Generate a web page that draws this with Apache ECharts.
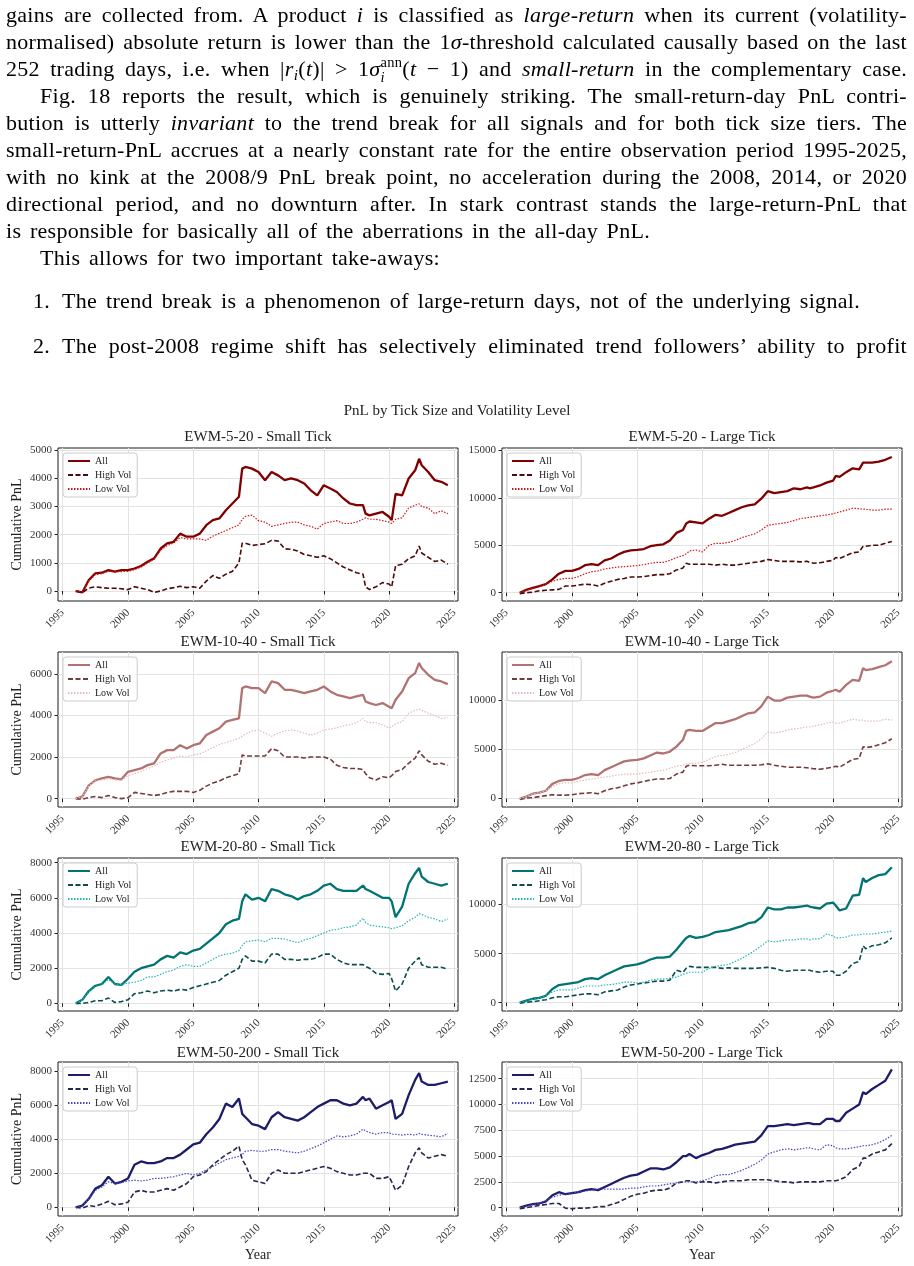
<!DOCTYPE html>
<html>
<head>
<meta charset="utf-8">
<script src="https://cdn.jsdelivr.net/npm/echarts@6.0.0/dist/echarts.min.js"></script>
<style>
  html, body { margin: 0; padding: 0; background: #fff; }
  #page { position: relative; width: 914px; height: 1266px; overflow: hidden; }
  #chart { position: absolute; left: 0; top: 0; width: 914px; height: 1266px; }
  .ln {
    position: absolute; white-space: nowrap;
    font-family: 'Liberation Serif', serif; font-size: 22px; line-height: 27px;
    letter-spacing: 0.3px; color: #000;
  }
  .ln sub { font-size: 0.7em; line-height: 0; vertical-align: -0.25em; }
  .ss { display: inline-block; vertical-align: -0.4em; font-size: 0.66em; line-height: 1; }
  .ss span { display: block; }
</style>
</head>
<body>
<div id="page">
  <div id="chart"></div>

  <div class="ln" data-w="901" style="left:6px;top:1px">gains are collected from. A product <i>i</i> is classified as <i>large-return</i> when its current (volatility-</div>
  <div class="ln" data-w="901" style="left:6px;top:28px">normalised) absolute return is lower than the 1<i>σ</i>-threshold calculated causally based on the last</div>
  <div class="ln" data-w="901" style="left:6px;top:55px">252 trading days, i.e. when |<i>r</i><sub><i>i</i></sub>(<i>t</i>)| &gt; 1<i>σ</i><span class="ss"><span>ann</span><span><i>i</i></span></span>(<i>t</i> − 1) and <i>small-return</i> in the complementary case.</div>
  <div class="ln" data-w="867" style="left:40px;top:82px">Fig. 18 reports the result, which is genuinely striking. The small-return-day PnL contri-</div>
  <div class="ln" data-w="901" style="left:6px;top:109px">bution is utterly <i>invariant</i> to the trend break for all signals and for both tick size tiers. The</div>
  <div class="ln" data-w="901" style="left:6px;top:136px">small-return-PnL accrues at a nearly constant rate for the entire observation period 1995-2025,</div>
  <div class="ln" data-w="901" style="left:6px;top:163px">with no kink at the 2008/9 PnL break point, no acceleration during the 2008, 2014, or 2020</div>
  <div class="ln" data-w="901" style="left:6px;top:190px">directional period, and no downturn after. In stark contrast stands the large-return-PnL that</div>
  <div class="ln" data-w="644" style="left:6px;top:217px">is responsible for basically all of the aberrations in the all-day PnL.</div>
  <div class="ln" data-w="400" style="left:40px;top:244px">This allows for two important take-aways:</div>
  <div class="ln" style="left:33px;top:287px">1.</div>
  <div class="ln" data-w="798" style="left:62px;top:287px">The trend break is a phenomenon of large-return days, not of the underlying signal.</div>
  <div class="ln" style="left:33px;top:332px">2.</div>
  <div class="ln" data-w="845" style="left:62px;top:332px">The post-2008 regime shift has selectively eliminated trend followers’ ability to profit</div>
</div>

<script>
// sample dates (fractional years), shared by every series
const years = [
  1996.0, 1996.5, 1997.0, 1997.5, 1998.0, 1998.5, 1999.0, 1999.5, 2000.0, 2000.5,
  2001.0, 2001.5, 2002.0, 2002.5, 2003.0, 2003.5, 2004.0, 2004.5, 2005.0, 2005.5,
  2006.0, 2006.5, 2007.0, 2007.5, 2008.0, 2008.5, 2008.75, 2009.0, 2009.5, 2010.0,
  2010.5, 2011.0, 2011.5, 2012.0, 2012.5, 2013.0, 2013.5, 2014.0, 2014.5, 2015.0,
  2015.5, 2016.0, 2016.5, 2017.0, 2017.5, 2018.0, 2018.2, 2018.5, 2019.0, 2019.5,
  2020.0, 2020.2, 2020.5, 2021.0, 2021.5, 2022.0, 2022.3, 2022.5, 2023.0, 2023.5,
  2024.0, 2024.5
]
const xTicks = [1995, 2000, 2005, 2010, 2015, 2020, 2025]

// EWM-5-20 small tick
const p1All = [0, -50, 390, 630, 650, 740, 690, 740, 740, 800,
  890, 1040, 1160, 1510, 1690, 1750, 2040, 1930, 1930, 2040,
  2340, 2520, 2580, 2870, 3110, 3350, 4350, 4410, 4350, 4230,
  3940, 4230, 4110, 3940, 4000, 3940, 3820, 3580, 3400, 3760,
  3640, 3520, 3290, 3110, 3050, 3050, 2750, 2690, 2750, 2810,
  2640, 2520, 3450, 3400, 4000, 4290, 4700, 4470, 4230, 3940,
  3880, 3760]
const p1High = [0, -50, 100, 150, 120, 100, 100, 80, 50, 150,
  100, 50, -50, 0, 80, 120, 170, 120, 150, 100,
  350, 550, 450, 600, 700, 1000, 1700, 1700, 1620, 1650,
  1680, 1800, 1780, 1500, 1480, 1420, 1300, 1250, 1200, 1250,
  1150, 1000, 850, 750, 650, 600, 150, 50, 150, 300,
  250, 150, 900, 950, 1150, 1250, 1600, 1350, 1200, 1050,
  1100, 950]
const p1Low = [0, -30, 350, 580, 620, 700, 680, 690, 700, 760,
  850, 1000, 1130, 1450, 1620, 1700, 1900, 1850, 1850, 1850,
  1800, 1950, 2050, 2150, 2250, 2350, 2550, 2650, 2700, 2500,
  2450, 2300, 2350, 2400, 2450, 2450, 2350, 2300, 2200, 2400,
  2450, 2500, 2400, 2400, 2450, 2550, 2600, 2550, 2550, 2500,
  2450, 2400, 2550, 2600, 2950, 3050, 3100, 3000, 2950, 2750,
  2850, 2750]

// EWM-5-20 large tick
const p2All = [0, 300, 500, 700, 900, 1400, 2000, 2300, 2300, 2500,
  2900, 3000, 2900, 3400, 3600, 4000, 4300, 4450, 4500, 4600,
  4900, 5000, 5100, 5500, 6300, 6600, 7300, 7500, 7400, 7300,
  7800, 8200, 8100, 8400, 8700, 9000, 9200, 9300, 9900, 10700,
  10500, 10600, 10700, 11000, 10900, 11100, 11000, 11100, 11300, 11600,
  11800, 12300, 12200, 12700, 13100, 13000, 13700, 13700, 13700, 13800,
  14000, 14300]
const p2High = [-100, 0, 50, 200, 250, 300, 350, 700, 700, 800,
  900, 850, 700, 1000, 1200, 1400, 1500, 1650, 1650, 1700,
  1800, 1900, 1900, 2000, 2400, 2600, 3100, 3000, 3000, 3000,
  3000, 2900, 3000, 2900, 2900, 3000, 3100, 3200, 3300, 3500,
  3400, 3300, 3300, 3300, 3250, 3300, 3200, 3100, 3150, 3300,
  3400, 3700, 3600, 3900, 4200, 4300, 4900, 4900, 5000, 5000,
  5200, 5400]
const p2Low = [0, 250, 450, 650, 900, 1200, 1400, 1500, 1500, 1700,
  2000, 2200, 2300, 2500, 2600, 2700, 2750, 2800, 2850, 2950,
  3100, 3200, 3200, 3400, 3700, 3900, 4100, 4400, 4500, 4300,
  5000, 5200, 5200, 5300, 5500, 5800, 6000, 6200, 6600, 7100,
  7200, 7300, 7400, 7600, 7800, 7900, 7950, 8000, 8100, 8200,
  8300, 8400, 8500, 8700, 8900, 8850, 8800, 8800, 8700, 8700,
  8800, 8800]

// EWM-10-40 small tick
const p3All = [0, 100, 640, 880, 970, 1050, 970, 930, 1290, 1370,
  1450, 1610, 1690, 2170, 2330, 2330, 2570, 2410, 2570, 2650,
  3060, 3220, 3380, 3700, 3780, 3860, 5310, 5390, 5310, 5310,
  5070, 5630, 5550, 5230, 5230, 5150, 5070, 5150, 5230, 5390,
  5150, 4990, 4910, 4830, 4910, 4990, 4670, 4590, 4500, 4590,
  4420, 4340, 4750, 5150, 5790, 6030, 6520, 6280, 5950, 5710,
  5630, 5500]
const p3High = [0, -30, 50, 100, 50, 150, 50, 0, 50, 300,
  250, 200, 150, 200, 300, 350, 350, 350, 300, 400,
  600, 750, 850, 1000, 1100, 1200, 2100, 2050, 2050, 2050,
  2050, 2400, 2300, 2000, 2000, 2000, 1950, 2000, 2000, 2000,
  1900, 1600, 1500, 1450, 1450, 1400, 1200, 1000, 900, 1050,
  1000, 1100, 1300, 1400, 1700, 1950, 2300, 2100, 1800, 1650,
  1700, 1600]
const p3Low = [0, 80, 600, 850, 900, 950, 900, 880, 1100, 1200,
  1300, 1450, 1550, 1750, 1850, 1950, 2050, 2000, 2100, 2150,
  2300, 2450, 2600, 2700, 2800, 2900, 3000, 3100, 3250, 3300,
  3150, 3000, 3150, 3250, 3300, 3250, 3150, 3050, 3150, 3300,
  3350, 3400, 3500, 3550, 3650, 3850, 3700, 3650, 3650, 3550,
  3400, 3450, 3600, 3700, 4100, 4250, 4300, 4250, 4100, 4000,
  3850, 3900]

// EWM-10-40 large tick
const p4All = [0, 200, 500, 600, 800, 1500, 1800, 1900, 1900, 2100,
  2400, 2500, 2400, 2900, 3200, 3500, 3800, 3900, 3950, 4100,
  4400, 4700, 4600, 4800, 5300, 6000, 6900, 7000, 6900, 6900,
  7300, 7700, 7700, 7900, 8100, 8400, 8700, 8800, 9400, 10400,
  10000, 10000, 10300, 10400, 10500, 10500, 10400, 10300, 10400, 10800,
  11000, 11100, 10900, 11600, 12100, 12000, 13300, 13100, 13200, 13400,
  13600, 14000]
const p4High = [-100, 50, 100, 200, 300, 400, 350, 350, 400, 500,
  550, 600, 500, 800, 1000, 1100, 1300, 1500, 1600, 1750,
  1900, 2000, 2000, 2050, 2500, 2700, 3300, 3400, 3350, 3350,
  3350, 3400, 3500, 3400, 3400, 3400, 3400, 3400, 3450, 3550,
  3400, 3300, 3200, 3200, 3200, 3150, 3100, 3050, 3000, 3100,
  3200, 3300, 3200, 3600, 4000, 4100, 5300, 5200, 5300, 5500,
  5700, 6100]
const p4Low = [0, 200, 450, 600, 800, 1200, 1500, 1600, 1600, 1750,
  1900, 2000, 2100, 2200, 2300, 2400, 2500, 2500, 2500, 2600,
  2700, 2800, 2900, 3100, 3300, 3400, 3500, 3600, 3600, 3700,
  4000, 4300, 4400, 4500, 4700, 5000, 5300, 5600, 6100, 6800,
  6700, 6800, 7000, 7100, 7200, 7300, 7300, 7400, 7500, 7700,
  7800, 7700, 7700, 7900, 8100, 8000, 8000, 7900, 7900, 7900,
  8100, 8000]

// EWM-20-80 small tick
const p5All = [0, 200, 700, 1000, 1100, 1500, 1100, 1050, 1400, 1800,
  2000, 2100, 2200, 2500, 2700, 2600, 2900, 2800, 3000, 3100,
  3400, 3700, 4000, 4500, 4700, 4800, 5800, 6200, 5900, 6000,
  5800, 6500, 6400, 6200, 6100, 5900, 6100, 6200, 6400, 6700,
  6800, 6500, 6400, 6400, 6400, 6700, 6500, 6400, 6200, 6000,
  6000, 5800, 4900, 5500, 6800, 7400, 7700, 7200, 6900, 6800,
  6700, 6800]
const p5High = [0, 0, 50, 150, 150, 300, 50, 100, 200, 550,
  600, 700, 600, 700, 750, 700, 800, 750, 900, 1000,
  1100, 1200, 1300, 1600, 1800, 2000, 2500, 2700, 2400, 2400,
  2300, 2800, 2800, 2500, 2500, 2450, 2500, 2500, 2600, 2800,
  2800, 2500, 2300, 2200, 2200, 2200, 2100, 2000, 1700, 1650,
  1700, 1400, 700, 1100, 2000, 2400, 2600, 2200, 2050, 2050,
  2050, 1950]
const p5Low = [0, 200, 650, 950, 1050, 1350, 1100, 1050, 1150, 1200,
  1300, 1500, 1500, 1650, 1800, 1900, 2100, 2200, 2100, 2100,
  2300, 2500, 2700, 2800, 2850, 3000, 3300, 3500, 3550, 3600,
  3500, 3700, 3700, 3650, 3550, 3450, 3600, 3700, 3850, 4000,
  4150, 4200, 4300, 4350, 4450, 4850, 4600, 4450, 4400, 4350,
  4300, 4250, 4300, 4400, 4700, 4900, 5100, 5050, 4900, 4800,
  4650, 4800]

// EWM-20-80 large tick
const p6All = [0, 200, 400, 500, 700, 1400, 1800, 1900, 2000, 2100,
  2400, 2500, 2400, 2800, 3100, 3400, 3700, 3800, 3900, 4100,
  4400, 4600, 4600, 4700, 5400, 6200, 6600, 6800, 6600, 6700,
  6900, 7200, 7300, 7400, 7600, 7800, 8100, 8200, 8700, 9700,
  9500, 9500, 9700, 9700, 9800, 9900, 9800, 9700, 9600, 10100,
  10200, 9900, 9400, 9600, 10900, 11000, 12700, 12300, 12700, 13000,
  13100, 13800]
const p6High = [-50, 50, 100, 200, 300, 500, 600, 600, 700, 800,
  900, 900, 800, 1100, 1200, 1300, 1600, 1800, 1900, 2000,
  2100, 2200, 2200, 2300, 3300, 3100, 3500, 3700, 3600, 3600,
  3600, 3600, 3500, 3550, 3500, 3500, 3500, 3500, 3550, 3600,
  3500, 3300, 3200, 3300, 3300, 3300, 3300, 3200, 3100, 3200,
  3200, 2800, 2800, 3200, 4000, 4200, 5800, 5500, 5800, 5900,
  6100, 6600]
const p6Low = [0, 150, 350, 450, 700, 1100, 1300, 1300, 1300, 1500,
  1700, 1700, 1700, 1800, 1850, 1950, 2100, 2100, 2000, 2100,
  2300, 2400, 2400, 2500, 2600, 2900, 3000, 3100, 3100, 3100,
  3500, 3700, 3800, 3900, 4200, 4500, 4900, 5300, 5800, 6300,
  6200, 6300, 6400, 6400, 6500, 6500, 6400, 6500, 6500, 7000,
  6800, 6600, 6600, 6700, 6900, 6900, 7000, 7000, 7000, 7100,
  7200, 7300]

// EWM-50-200 small tick
const p7All = [0, 100, 500, 1100, 1300, 1800, 1400, 1500, 1700, 2500,
  2700, 2600, 2600, 2700, 2900, 2900, 3100, 3400, 3700, 3800,
  4300, 4700, 5200, 6100, 5900, 6400, 5500, 5300, 4900, 4800,
  4600, 5300, 5600, 5300, 5200, 5100, 5300, 5600, 5900, 6100,
  6300, 6300, 6100, 6000, 6100, 6500, 6300, 6400, 5800, 6000,
  6200, 6300, 5200, 5500, 6600, 7500, 7900, 7400, 7200, 7200,
  7300, 7400]
const p7High = [0, -50, 100, 50, 200, 350, 150, 200, 300, 900,
  1000, 900, 900, 1000, 1100, 1000, 1200, 1400, 1800, 1900,
  2100, 2500, 2800, 3100, 3300, 3600, 2800, 2500, 1600, 1500,
  1400, 2000, 2200, 2000, 2000, 2000, 2100, 2200, 2300, 2400,
  2300, 2100, 2000, 1900, 1900, 2000, 2000, 2000, 1700, 1700,
  1800, 1500, 1000, 1300, 2400, 3200, 3500, 3200, 2900, 3000,
  3100, 3000]
const p7Low = [0, 100, 500, 1000, 1200, 1500, 1400, 1450, 1550, 1600,
  1550, 1600, 1700, 1700, 1750, 1800, 1900, 2000, 1900, 2000,
  2200, 2400, 2600, 2800, 2900, 3000, 3100, 3300, 3350, 3300,
  3300, 3400, 3400, 3300, 3250, 3200, 3300, 3450, 3600, 3800,
  4000, 4200, 4150, 4200, 4300, 4600, 4500, 4400, 4300, 4400,
  4400, 4300, 4300, 4250, 4300, 4250, 4350, 4300, 4250, 4200,
  4150, 4350]

// EWM-50-200 large tick
const p8All = [0, 200, 350, 400, 600, 1200, 1500, 1300, 1400, 1500,
  1700, 1800, 1700, 2000, 2300, 2600, 2900, 3100, 3200, 3500,
  3800, 3800, 3700, 3900, 4400, 5000, 5000, 5200, 4800, 5100,
  5300, 5600, 5700, 5900, 6100, 6200, 6300, 6400, 7000, 7900,
  7900, 8000, 8100, 8000, 8100, 8200, 8200, 8100, 8100, 8600,
  8600, 8400, 8400, 9200, 9600, 10000, 11200, 11000, 11500, 11900,
  12300, 13400]
const p8High = [-100, 0, 100, 200, 300, 400, 400, -50, -100, -50,
  -50, 0, 100, 100, 300, 500, 800, 1100, 1300, 1400,
  1600, 1700, 1700, 1900, 2400, 2500, 2600, 2600, 2400, 2500,
  2500, 2400, 2500, 2600, 2600, 2600, 2700, 2700, 2700, 2700,
  2600, 2500, 2500, 2400, 2500, 2500, 2500, 2500, 2500, 2600,
  2600, 2600, 2700, 3000, 3700, 4000, 4800, 4800, 5200, 5400,
  5600, 6200]
const p8Low = [0, 150, 300, 400, 700, 1000, 1200, 1300, 1400, 1500,
  1600, 1700, 1800, 1800, 1800, 1800, 1800, 1900, 1900, 2000,
  2100, 2100, 2200, 2300, 2400, 2500, 2500, 2500, 2500, 2600,
  2800, 3100, 3200, 3200, 3400, 3600, 3900, 4200, 4600, 5200,
  5400, 5600, 5700, 5600, 5700, 5800, 5800, 5700, 5600, 6100,
  6000, 5800, 5700, 5700, 5800, 5900, 6000, 6000, 6100, 6300,
  6600, 7000]

const panelTitles = [
  'EWM-5-20 - Small Tick', 'EWM-5-20 - Large Tick',
  'EWM-10-40 - Small Tick', 'EWM-10-40 - Large Tick',
  'EWM-20-80 - Small Tick', 'EWM-20-80 - Large Tick',
  'EWM-50-200 - Small Tick', 'EWM-50-200 - Large Tick'
]
const seriesNames = ['All', 'High Vol', 'Low Vol']
const yTicks = [
  [0, 1000, 2000, 3000, 4000, 5000], [0, 5000, 10000, 15000],
  [0, 2000, 4000, 6000], [0, 5000, 10000],
  [0, 2000, 4000, 6000, 8000], [0, 5000, 10000],
  [0, 2000, 4000, 6000, 8000], [0, 2500, 5000, 7500, 10000, 12500]
]
const yMin = [-355, -876, -402, -856, -435, -848, -511, -810]
const yMax = [5083, 15245, 7046, 14950, 8265, 14746, 8550, 14119]
const panelData = [
  [p1All, p1High, p1Low], [p2All, p2High, p2Low],
  [p3All, p3High, p3Low], [p4All, p4High, p4Low],
  [p5All, p5High, p5Low], [p6All, p6High, p6Low],
  [p7All, p7High, p7Low], [p8All, p8High, p8Low]
]

// layout / styles
const FONT = 'Liberation Serif'
const colLeft = [58, 502]
const plotW = 400
const rowTop = [448, 652, 858, 1062]
const rowH = [153, 155, 153, 154]
const titleY = [437, 642, 847, 1053]
const palettes = [
  ['#800000', '#4d0a0a', '#d01515'],
  ['#b27272', '#733c3c', '#e3bcbc'],
  ['#007373', '#0b4d4d', '#26b3b3'],
  ['#1c1c6b', '#262650', '#4646c0']
]
const lineTypes = ['solid', [5, 2.5], [1.5, 1.5]]
const lineWidths = [2.3, 1.6, 1.2]

// stretch each text line to the width it has in the page
document.querySelectorAll('.ln[data-w]').forEach(el => {
  const target = +el.dataset.w
  const natural = el.getBoundingClientRect().width
  const spaces = (el.textContent.match(/ /g) || []).length
  if (spaces) el.style.wordSpacing = ((target - natural) / spaces) + 'px'
})

const myChart = echarts.init(document.getElementById('chart'))

let grids = []
let xAxes = []
let yAxes = []
let titles = [{
  text: 'PnL by Tick Size and Volatility Level',
  left: 457, top: 402, textAlign: 'center', padding: 0,
  textStyle: { fontFamily: FONT, fontSize: 15, fontWeight: 'normal', color: '#222', lineHeight: 18 }
}]
let legends = []
let series = []

panelData.forEach((lines, i) => {
  const col = i % 2
  const row = Math.floor(i / 2)
  const gl = colLeft[col]
  const gt = rowTop[row]
  grids.push({
    left: gl, top: gt, width: plotW, height: rowH[row],
    containLabel: false, outerBoundsMode: 'none',
    show: true, borderColor: '#1a1a1a', borderWidth: 1, backgroundColor: '#fff'
  })
  titles.push({
    text: panelTitles[i],
    left: gl + plotW / 2, top: titleY[row] - 9, textAlign: 'center', padding: 0,
    textStyle: { fontFamily: FONT, fontSize: 15, fontWeight: 'normal', color: '#222', lineHeight: 18 }
  })
  xAxes.push({
    type: 'value', gridIndex: i, min: 1994.64, max: 2025.28,
    name: row === 3 ? 'Year' : '', nameLocation: 'middle', nameGap: 30,
    nameTextStyle: { fontFamily: FONT, fontSize: 14, color: '#222' },
    axisLine: { show: false },
    axisTick: { show: true, length: 3.5, customValues: xTicks, lineStyle: { color: '#222' } },
    axisLabel: {
      customValues: xTicks, rotate: 45, margin: 10,
      fontFamily: FONT, fontSize: 11, color: '#333',
      formatter: v => String(v)
    },
    splitLine: { show: true, lineStyle: { color: '#e3e3e3', width: 1 } }
  })
  yAxes.push({
    type: 'value', gridIndex: i, min: yMin[i], max: yMax[i],
    name: col === 0 ? 'Cumulative PnL' : '', nameLocation: 'middle', nameGap: 34, nameRotate: 90,
    nameTextStyle: { fontFamily: FONT, fontSize: 14, color: '#222' },
    axisLine: { show: false },
    axisTick: { show: true, length: 3.5, customValues: yTicks[i], lineStyle: { color: '#222' } },
    axisLabel: {
      customValues: yTicks[i], margin: 6,
      fontFamily: FONT, fontSize: 11, color: '#333',
      formatter: v => String(v)
    },
    splitLine: { show: true, lineStyle: { color: '#e3e3e3', width: 1 } }
  })
  legends.push({
    orient: 'vertical', left: gl + 5, top: gt + 5,
    itemWidth: 22, itemHeight: 10, itemGap: 4, padding: [3, 6, 3, 4],
    borderColor: '#cccccc', borderWidth: 1, borderRadius: 3,
    backgroundColor: 'rgba(255,255,255,0.8)',
    itemStyle: { opacity: 0 },
    selectedMode: false,
    textStyle: { fontFamily: FONT, fontSize: 10, color: '#222' },
    data: seriesNames.map(n => n + '|' + i),
    formatter: n => n.split('|')[0]
  })
  const pal = palettes[Math.floor(i / 2)]
  lines.forEach((vals, k) => {
    series.push({
      type: 'line',
      name: seriesNames[k] + '|' + i,
      xAxisIndex: i, yAxisIndex: i,
      data: years.map((x, j) => [x, vals[j]]),
      symbol: 'none',
      silent: true,
      itemStyle: { color: pal[k] },
      lineStyle: { color: pal[k], width: lineWidths[k], type: lineTypes[k] },
      emphasis: { disabled: true }
    })
  })
})

myChart.setOption({
  animation: false,
  backgroundColor: 'transparent',
  title: titles,
  legend: legends,
  grid: grids,
  xAxis: xAxes,
  yAxis: yAxes,
  series: series
})
</script>
</body>
</html>
